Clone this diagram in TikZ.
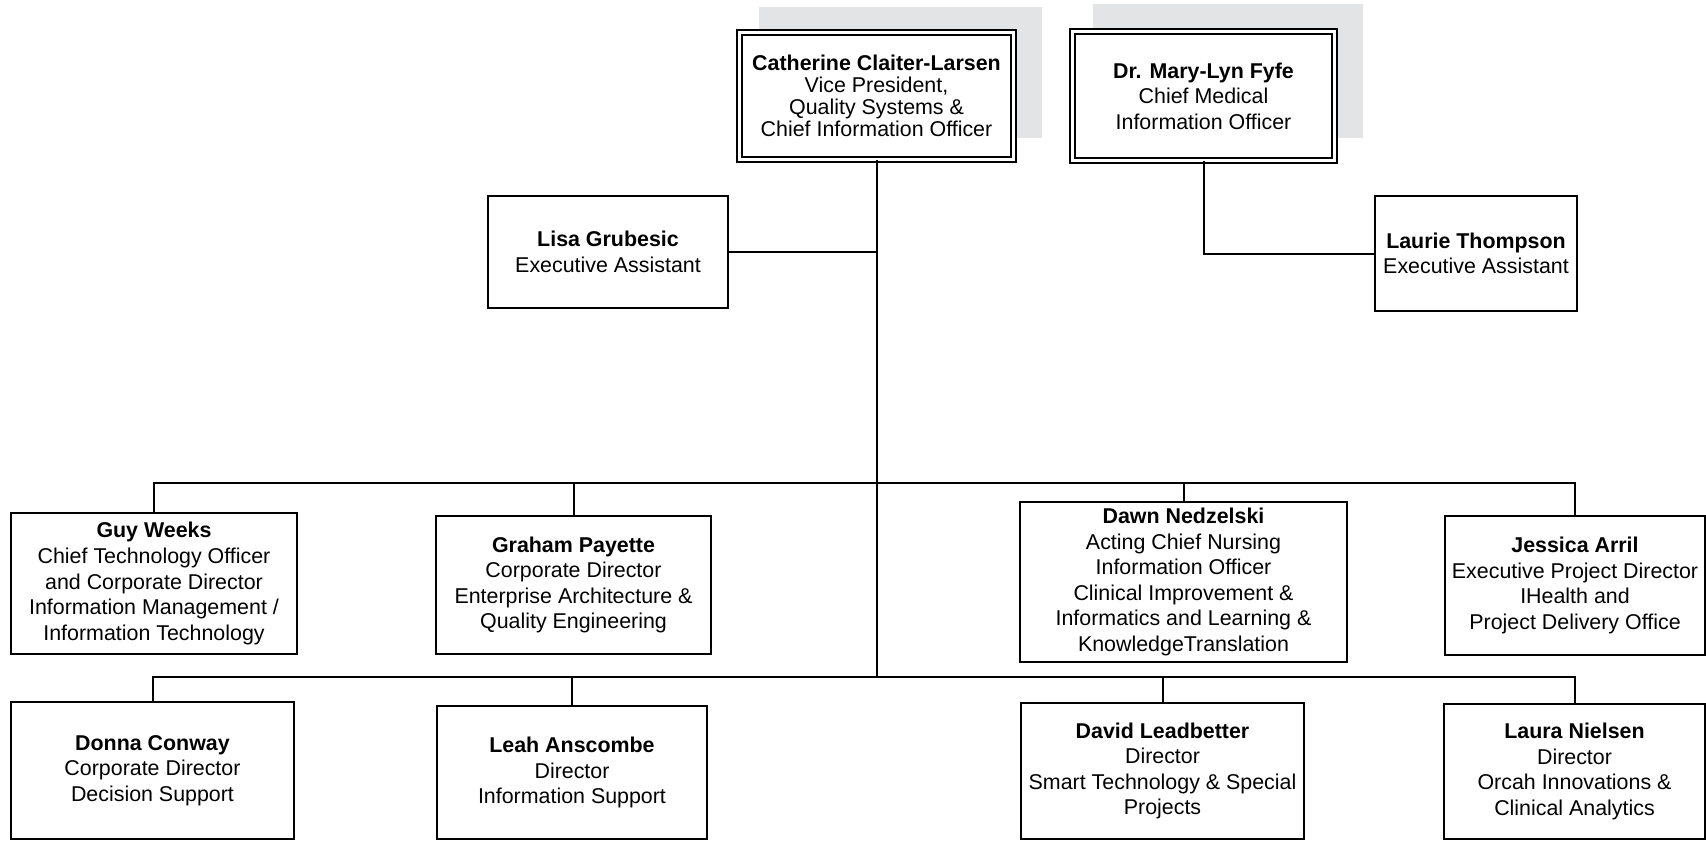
\documentclass[tikz,border=0pt]{standalone}
\usepackage{fontspec}
\setmainfont{Liberation Sans}

\definecolor{shadowgrey}{RGB}{226,228,230}

\tikzset{
	person/.style={draw, line width=1pt, fill=white, align=center, inner sep=0pt,
		font=\fontsize{10.7pt}{12.8pt}\selectfont},
	headbox/.style={person, line width=0.9pt, double, double distance=1.6pt},
	boxsize/.style 2 args={minimum width=#1*0.5pt, minimum height=#2*0.5pt},
	connector/.style={line width=1pt}
}

\begin{document}
\begin{tikzpicture}[x=0.5pt, y=-0.5pt]
	\useasboundingbox (0,0) rectangle (1706,842);

	\fill [shadowgrey] (759,7) rectangle (1042,138);
	\fill [shadowgrey] (1093,4) rectangle (1363,138);

	\node [headbox, boxsize={274}{127}, font=\fontsize{10.7pt}{11.1pt}\selectfont] (cio) at (876.5,96)
		{\textbf{Catherine Claiter-Larsen}\\Vice President,\\Quality Systems \&\\Chief Information Officer};
	\node [headbox, boxsize={262}{129}] (cmio) at (1203.5,96)
		{\textbf{Dr. Mary-Lyn Fyfe}\\Chief Medical\\Information Officer};

	\node [person, boxsize={240}{112}] (ea1) at (608,252) {\textbf{Lisa Grubesic}\\Executive Assistant};
	\node [person, boxsize={202}{115}] (ea2) at (1476,253.5) {\textbf{Laurie Thompson}\\Executive Assistant};

	\node [person, boxsize={286}{141}] (cto) at (154,583.5)
		{\textbf{Guy Weeks}\\Chief Technology Officer\\and Corporate Director\\Information Management /\\Information Technology};
	\node [person, boxsize={275}{138}] (ead) at (573.5,585)
		{\textbf{Graham Payette}\\Corporate Director\\Enterprise Architecture \&\\Quality Engineering};
	\node [person, boxsize={327}{160}] (cnio) at (1183.5,582)
		{\textbf{Dawn Nedzelski}\\Acting Chief Nursing\\Information Officer\\Clinical Improvement \&\\Informatics and Learning \&\\KnowledgeTranslation};
	\node [person, boxsize={260}{139}] (epd) at (1575,585.5)
		{\textbf{Jessica Arril}\\Executive Project Director\\IHealth and\\Project Delivery Office};

	\node [person, boxsize={283}{137}] (ds) at (152.5,770.5)
		{\textbf{Donna Conway}\\Corporate Director\\Decision Support};
	\node [person, boxsize={270}{133}] (isd) at (572,772.5)
		{\textbf{Leah Anscombe}\\Director\\Information Support};
	\node [person, boxsize={283}{136}] (std) at (1162.5,771)
		{\textbf{David Leadbetter}\\Director\\Smart Technology \& Special\\Projects};
	\node [person, boxsize={261}{135}] (oca) at (1574.5,771.5)
		{\textbf{Laura Nielsen}\\Director\\Orcah Innovations \&\\Clinical Analytics};

	\coordinate (bus1) at (876.5,483);
	\coordinate (bus2) at (876.5,677);

	\draw [connector] (cio.south) -- (bus2);
	\draw [connector] (ea1.east) -- (ea1.east -| cio.south);
	\draw [connector] (cmio.south) |- (ea2.west);

	\draw [connector] (cto.north) |- (bus1) -| (epd.north);
	\draw [connector] (ead.north) -- (ead.north |- bus1);
	\draw [connector] (cnio.north) -- (cnio.north |- bus1);

	\draw [connector] (ds.north) |- (bus2) -| (oca.north);
	\draw [connector] (isd.north) -- (isd.north |- bus2);
	\draw [connector] (std.north) -- (std.north |- bus2);
\end{tikzpicture}
\end{document}
